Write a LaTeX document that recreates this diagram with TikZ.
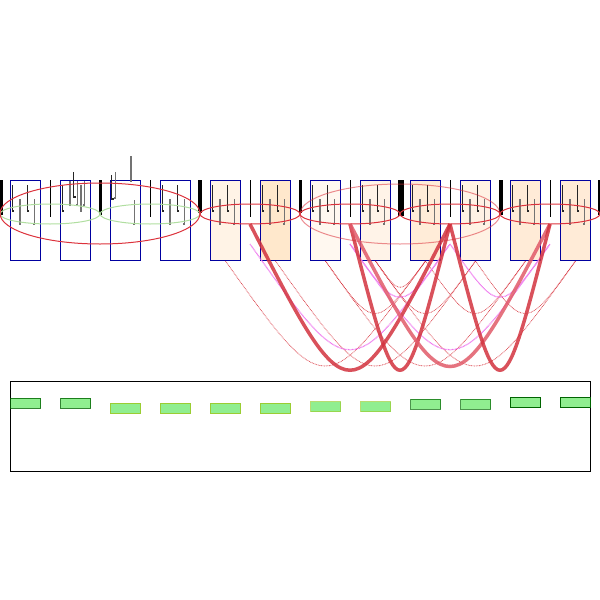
\documentclass[tikz,border=0pt]{standalone}
\begin{document}
\definecolor{navyb}{RGB}{0,0,160}
\definecolor{ellred}{RGB}{220,50,60}
\definecolor{ellgreen}{RGB}{176,222,160}
\definecolor{arcred}{RGB}{210,50,62}
\definecolor{arclight}{RGB}{225,90,105}
\definecolor{pinkv}{RGB}{238,120,238}
\definecolor{dotred}{RGB}{215,50,60}
\definecolor{lgreen}{RGB}{144,238,144}
\definecolor{dgreen}{RGB}{0,100,0}
\definecolor{ygreen}{RGB}{154,205,50}
\definecolor{cA}{RGB}{255,243,230}
\definecolor{cB}{RGB}{255,232,204}
\definecolor{cC}{RGB}{255,248,240}
\definecolor{cD}{RGB}{255,243,232}
\definecolor{cE}{RGB}{255,236,216}
\definecolor{cF}{RGB}{255,242,228}
\definecolor{cG}{RGB}{255,235,215}
\begin{tikzpicture}[x=1pt,y=-1pt,
  segbox/.style={draw=navyb, line width=1pt, inner sep=0pt, minimum width=30pt, minimum height=80pt, anchor=north west},
  grnbox/.style={fill=lgreen, line width=1pt, inner sep=0pt, minimum width=30pt, minimum height=10pt, anchor=north west},
  upstem/.style={draw=black!85, line width=1.3pt},
  lowstem/.style={draw=black!55, line width=1.5pt},
  thinbar/.style={draw=black, line width=1pt},
  thickbar/.style={draw=black, line width=3pt},
  thickarc/.style={draw=arcred, line width=3.5pt, opacity=0.85},
  pinkarc/.style={draw=pinkv, line width=1.2pt, dash pattern=on 0.8pt off 0.6pt},
  dotarc/.style={draw=dotred, line width=0.8pt, dash pattern=on 0.8pt off 0.8pt, opacity=0.85}]
\useasboundingbox (0,0) rectangle (600,600);
% boxes
\node[segbox] (b1) at (10,180) {};
\node[segbox] (b2) at (60,180) {};
\node[segbox] (b3) at (110,180) {};
\node[segbox] (b4) at (160,180) {};
\node[segbox, fill=cA] (b5) at (210,180) {};
\node[segbox, fill=cB] (b6) at (260,180) {};
\node[segbox, fill=cC] (b7) at (310,180) {};
\node[segbox, fill=cD] (b8) at (360,180) {};
\node[segbox, fill=cE] (b9) at (410,180) {};
\node[segbox, fill=cF] (b10) at (460,180) {};
\node[segbox, fill=cG] (b11) at (510,180) {};
\node[segbox, fill=cG] (b12) at (560,180) {};
% bars
\foreach \x in {50,150,250,350,450,550} \draw[thinbar] (\x,180) -- (\x,217);
\draw[draw=black, line width=6pt] (0,180) -- (0,215);
\draw[thickbar] (100,180) -- (100,215);
\draw[draw=black, line width=4pt] (200,180) -- (200,213);
\draw[thickbar] (300,180) -- (300,213);
\draw[draw=black, line width=6pt] (401,180) -- (401,216);
\draw[draw=black, line width=4pt] (501,180) -- (501,215);
\draw[draw=black, line width=5pt] (600,180) -- (600,215);
% standard stems
\foreach \L in {10,160,210,260,310,360,410,460,510,560} {
  \draw[upstem] (\L+2.3,185) -- (\L+2.3,211) -- (\L+4.3,211);
  \draw[lowstem] (\L+10,199) -- (\L+10,224) -- (\L+8.5,224);
  \draw[upstem] (\L+17.3,185) -- (\L+17.3,211) -- (\L+19.3,211);
  \draw[lowstem] (\L+24.7,199) -- (\L+24.7,224) -- (\L+23.2,224);
}
% box 2 stems
\draw[upstem] (62.3,185) -- (62.3,211) -- (64.3,211);
\draw[lowstem] (70,181) -- (70,205) -- (68.5,205);
\draw[upstem] (73.7,172) -- (73.7,197) -- (75.7,197);
\draw[lowstem] (77.3,181) -- (77.3,205) -- (75.8,205);
\draw[lowstem] (81,185) -- (81,211) -- (79.5,211);
\draw[lowstem] (84.7,181) -- (84.7,205) -- (83.2,205);
% box 3 stems
\draw[upstem] (111.7,175) -- (111.7,199) -- (113.7,199);
\draw[lowstem] (115.7,172) -- (115.7,198) -- (114.2,198);
\draw[lowstem] (131,156) -- (131,181) -- (129.5,181);
\draw[lowstem] (134.3,200) -- (134.3,224) -- (132.8,224);
% ellipses
\draw[ellgreen, line width=1pt] (50,214) ellipse [x radius=50, y radius=10];
\draw[ellgreen, line width=1pt] (150,214) ellipse [x radius=50, y radius=10];
\draw[ellred, line width=1pt] (100,213.5) ellipse [x radius=100, y radius=30.5];
\draw[ellred, line width=1pt, opacity=0.55] (400,214) ellipse [x radius=100, y radius=30];
\foreach \x in {250,350,450,550}
  \draw[ellred, line width=1pt] (\x,214) ellipse [x radius=50, y radius=10];
% arc end points
\foreach \x in {250,350,450,550} {
  \coordinate (e\x) at (\x,224);
  \coordinate (p\x) at (\x,244);
}
% thin dotted arcs (box to box)
\draw[dotarc] (b5.south) .. controls (325,401) .. (b9.south);
\draw[dotarc] (b6.south) .. controls (375,401) .. (b10.south);
\draw[dotarc] (b7.south) .. controls (375,331) .. (b9.south);
\draw[dotarc] (b8.south) .. controls (425,331) .. (b10.south);
\draw[dotarc] (b7.south) .. controls (425,401) .. (b11.south);
\draw[dotarc] (b8.south) .. controls (475,401) .. (b12.south);
\draw[dotarc] (b9.south) .. controls (475,331) .. (b11.south);
\draw[dotarc] (b10.south) .. controls (525,331) .. (b12.south);
\draw[dotarc] (b8.south) .. controls (400,296) .. (b9.south);
% pink arcs
\draw[pinkarc] (p250) .. controls (350,385) .. (p450);
\draw[pinkarc] (p350) .. controls (400,315) .. (p450);
\draw[pinkarc] (p350) .. controls (450,385) .. (p550);
\draw[pinkarc] (p450) .. controls (500,315) .. (p550);
% thick arcs
\draw[thickarc] (e250) .. controls (350,419) .. (e450);
\draw[thickarc] (e350) .. controls (400,419) .. (e450);
\draw[thickarc, draw=arclight] (e350) .. controls (450,414) .. (e550);
\draw[thickarc] (e450) .. controls (500,419) .. (e550);
% bottom panel
\node[draw=black, line width=1pt, inner sep=0pt, minimum width=580pt, minimum height=90pt, anchor=north west] (panel) at (10,381) {};
\node[grnbox, draw=dgreen, draw opacity=0.8] (g1) at (10,397.7) {};
\node[grnbox, draw=dgreen, draw opacity=0.8] (g2) at (60,397.7) {};
\node[grnbox, draw=ygreen] (g3) at (110,403.3) {};
\node[grnbox, draw=ygreen] (g4) at (160,403.3) {};
\node[grnbox, draw=ygreen] (g5) at (210,403.3) {};
\node[grnbox, draw=ygreen] (g6) at (260,403.3) {};
\node[grnbox, draw=ygreen, draw opacity=0.7] (g7) at (310,401.3) {};
\node[grnbox, draw=ygreen, draw opacity=0.7] (g8) at (360,401.3) {};
\node[grnbox, draw=dgreen, draw opacity=0.7] (g9) at (410,398.7) {};
\node[grnbox, draw=dgreen, draw opacity=0.7] (g10) at (460,398.7) {};
\node[grnbox, draw=dgreen] (g11) at (510,397.3) {};
\node[grnbox, draw=dgreen] (g12) at (560,397.3) {};
\end{tikzpicture}
\end{document}
